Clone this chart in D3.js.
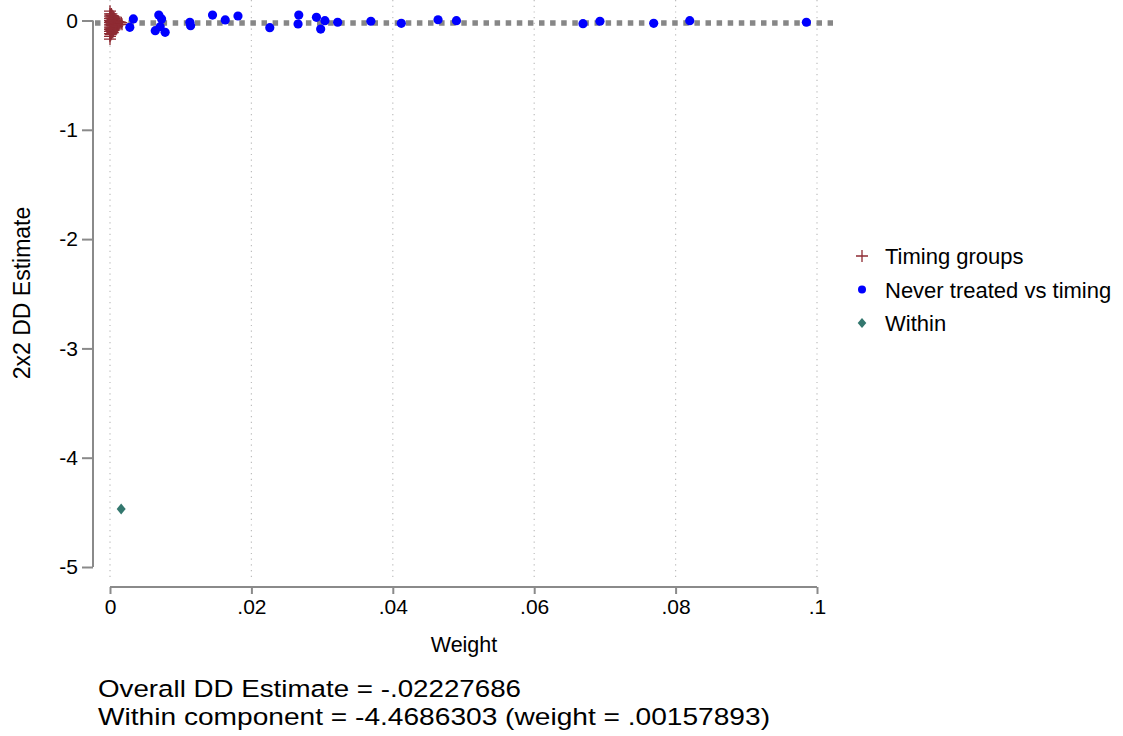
<!DOCTYPE html>
<html><head><meta charset="utf-8">
<script src="https://cdn.jsdelivr.net/npm/d3@7"></script>
<style>
body{margin:0;background:#fff;}
svg{display:block;font-family:"Liberation Sans",Arial,sans-serif;}
</style></head>
<body><svg id="c" width="1123" height="736"></svg>
<script>
// ---- data ----
const xTicks = [0, 0.02, 0.04, 0.06, 0.08, 0.1];
const xTickLabels = ["0", ".02", ".04", ".06", ".08", ".1"];
const yTicks = [0, -1, -2, -3, -4, -5];
const yTickLabels = ["0", "-1", "-2", "-3", "-4", "-5"];
const overallEstimate = -0.02227686;
const withinWeight = [0.00157893];
const withinEstimate = [-4.4686303];
const neverWeights = [0.0033,0.0028,0.0069,0.0073,0.0064,0.0078,0.0071,0.0113,0.0114,0.0145,0.0163,0.0181,0.0226,0.0267,0.0266,0.0292,0.0304,0.0298,0.0322,0.0369,0.0412,0.0464,0.0490,0.0669,0.0693,0.0769,0.0820,0.0985];
const neverEstimates = [0.014,-0.062,0.050,0.014,-0.093,-0.108,-0.057,-0.016,-0.048,0.050,0.005,0.041,-0.066,0.050,-0.032,0.029,-0.002,-0.078,-0.016,-0.007,-0.026,0.007,-0.002,-0.029,-0.007,-0.026,-0.002,-0.016];
const timingWeights = [
 0,0,0,0,0,0,0,0,0,0,0,0,0,
 0.0001,0.0001,0.0001,0.0001,0.0001,0.0001,0.0001,
 0.0002,0.0002,0.0002,0.0002,0.0002,0.0002,0.0002,
 0.0003,0.0003,0.0003,0.0003,0.0003,0.0003,
 0.0004,0.0004,0.0004,0.0004,0.0004,0.0004,
 0.0005,0.0005,0.0005,0.0005,0.0005,
 0.0006,0.0006,0.0006,0.0006,
 0.0008,0.0008,0.0008,
 0.0010,0.0010,0.0010,
 0.0012,0.0012,
 0.0014,0.0014,
 0.0016,0.0017];
const timingEstimates = [
 0.085,0.06,0.04,0.02,0.0,-0.02,-0.04,-0.06,-0.08,-0.10,-0.12,-0.145,-0.17,
 0.05,0.02,-0.01,-0.04,-0.07,-0.10,-0.13,
 0.06,0.03,0.0,-0.03,-0.06,-0.09,-0.12,
 0.045,0.015,-0.015,-0.045,-0.075,-0.105,
 0.04,0.01,-0.02,-0.05,-0.08,-0.11,
 0.03,0.0,-0.03,-0.06,-0.09,
 0.02,-0.01,-0.04,-0.07,
 0.0,-0.02,-0.045,
 -0.005,-0.03,-0.055,
 -0.01,-0.04,
 -0.015,-0.035,
 -0.02,-0.035];
const legendLabels = ["Timing groups", "Never treated vs timing", "Within"];
const xTitle = "Weight";
const yTitle = "2x2 DD Estimate";
const notes = ["Overall DD Estimate = -.02227686", "Within component = -4.4686303 (weight = .00157893)"];

// ---- drawing ----
const svg = d3.select("#c");
const x = d3.scaleLinear().domain([0, 0.1]).range([110, 817]);
const y = d3.scaleLinear().domain([0, -5]).range([20.5, 567]);
const axisGray = "#8a8a8a";
const red = "#8e2b33", blue = "#0000ff", teal = "#33776e";
const FF = "Liberation Sans, Arial, sans-serif";

// vertical dotted gridlines
svg.append("g").selectAll("line").data(xTicks).join("line")
  .attr("x1", d => x(d)).attr("x2", d => x(d))
  .attr("y1", 0).attr("y2", 580)
  .attr("stroke", "#bdbdbd").attr("stroke-width", 1.2)
  .attr("stroke-dasharray", "1.2,4.5");

// x axis
const xa = svg.append("g").attr("transform", "translate(0,587)")
  .call(d3.axisBottom(x).tickValues(xTicks).tickFormat((d,i) => xTickLabels[i]).tickSize(7).tickPadding(5));
xa.select(".domain").attr("stroke", axisGray).attr("stroke-width", 2).attr("d", `M${x(0)},0H${x(0.1)}`);
xa.selectAll(".tick line").attr("stroke", axisGray).attr("stroke-width", 2);
xa.selectAll(".tick text").attr("font-size", 21).attr("fill", "#000").attr("font-family", FF);

// y axis
const ya = svg.append("g").attr("transform", "translate(93,0)")
  .call(d3.axisLeft(y).tickValues(yTicks).tickFormat((d,i) => yTickLabels[i]).tickSize(11).tickPadding(4));
ya.select(".domain").attr("stroke", axisGray).attr("stroke-width", 2).attr("d", `M0,${y(0)}V${y(-5)}`);
ya.selectAll(".tick line").attr("stroke", axisGray).attr("stroke-width", 2);
ya.selectAll(".tick text").attr("font-size", 21).attr("fill", "#000").attr("font-family", FF);

// overall estimate reference line
svg.append("line")
  .attr("x1", 95).attr("x2", 833)
  .attr("y1", y(overallEstimate)).attr("y2", y(overallEstimate))
  .attr("stroke", "#878787").attr("stroke-width", 5.5)
  .attr("stroke-dasharray", "5.5,5.6");

// timing groups: plus markers
const timing = timingWeights.map((w,i) => ({w, v: timingEstimates[i]}));
svg.append("g").selectAll("path").data(timing).join("path")
  .attr("d", d => `M${x(d.w)-6},${y(d.v)}h12M${x(d.w)},${y(d.v)-6}v12`)
  .attr("stroke", red).attr("stroke-width", 1.3).attr("fill", "none");

// never treated: circles
const never = neverWeights.map((w,i) => ({w, v: neverEstimates[i]}));
svg.append("g").selectAll("circle").data(never).join("circle")
  .attr("cx", d => x(d.w)).attr("cy", d => y(d.v)).attr("r", 4.6).attr("fill", blue);

// within: diamond
svg.append("g").selectAll("path").data(withinWeight.map((w,i)=>({w, v: withinEstimate[i]}))).join("path")
  .attr("d", d => `M${x(d.w)},${y(d.v)-5.5}l4.5,5.5l-4.5,5.5l-4.5,-5.5z`).attr("fill", teal);

// axis titles
svg.append("text").attr("x", 464).attr("y", 652).attr("text-anchor", "middle")
  .attr("font-size", 21.5).text(xTitle);
svg.append("text").attr("transform", "translate(30,293) rotate(-90)").attr("text-anchor", "middle")
  .attr("font-size", 23).text(yTitle);

// legend
const lg = svg.append("g");
const ly = [256, 289.5, 323];
lg.append("path").attr("d", `M${862-6},${ly[0]}h12M862,${ly[0]-6}v12`).attr("stroke", red).attr("stroke-width", 1.3);
lg.append("circle").attr("cx", 862).attr("cy", ly[1]).attr("r", 4).attr("fill", blue);
lg.append("path").attr("d", `M862,${ly[2]-5}l4.3,5l-4.3,5l-4.3,-5z`).attr("fill", teal);
lg.selectAll("text").data(legendLabels).join("text")
  .attr("x", 885).attr("y", (d,i) => ly[i] + 8).attr("font-size", 22).text(d => d);

// notes
const noteLen = [423, 672];
svg.selectAll("text.note").data(notes).join("text").attr("class", "note")
  .attr("x", 98).attr("y", (d,i) => 697 + i*28)
  .attr("font-size", 24.5)
  .attr("textLength", (d,i) => noteLen[i]).attr("lengthAdjust", "spacingAndGlyphs")
  .text(d => d);
</script></body></html>
